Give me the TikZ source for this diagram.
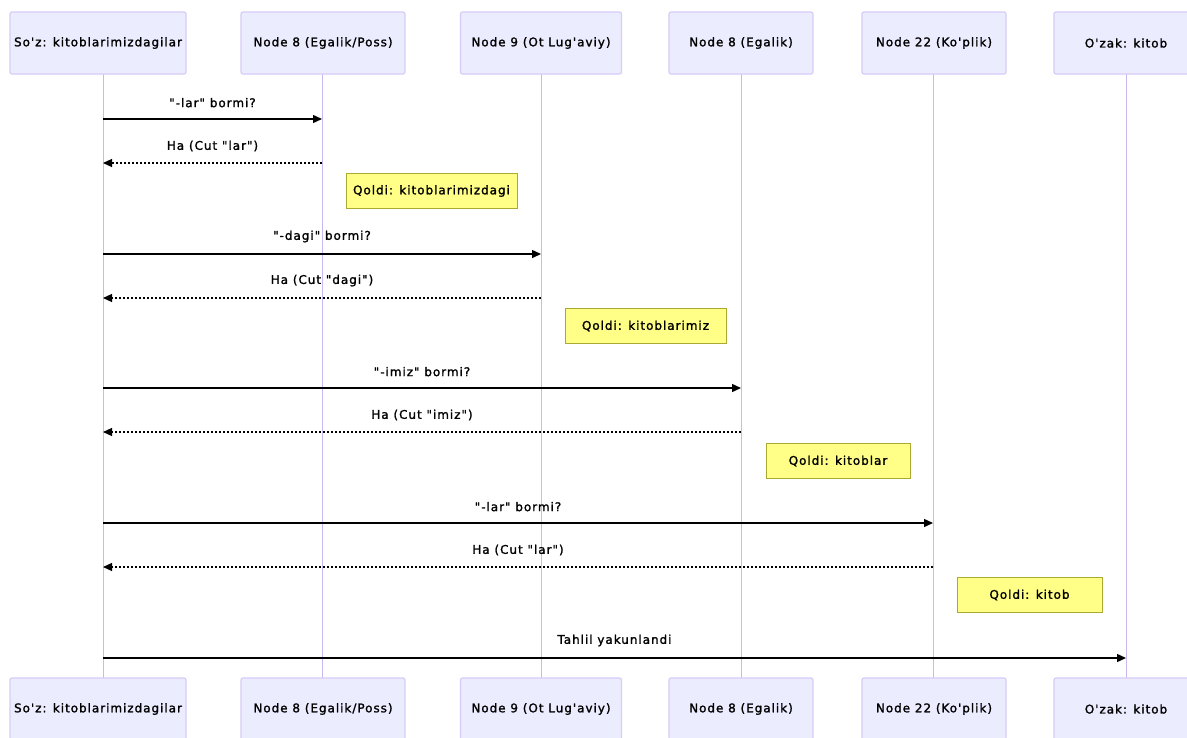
\documentclass[tikz,border=0pt]{standalone}
\usepackage{fontspec}
\setmainfont{DejaVu Sans}[Ligatures=TeXOff,LetterSpace=8,FakeBold=1.5,UprightFont=*,BoldFont=*]
\usetikzlibrary{arrows.meta}
\newcommand{\qq}{\symbol{34}}
\newcommand{\ap}{\symbol{39}}
\definecolor{actfill}{HTML}{ECECFF}
\definecolor{actdraw}{HTML}{D7CCF7}
\definecolor{lifeln}{HTML}{C9B8F2}
\definecolor{notefill}{HTML}{FFFF88}
\definecolor{notedraw}{HTML}{AAAA33}
\begin{document}
\begin{tikzpicture}[x=1pt,y=-1pt,
  txt/.style={font=\fontsize{12}{14}\selectfont\bfseries},
  actor/.style={txt,draw=actdraw,fill=actfill,line width=1.2pt,rounded corners=2pt,minimum height=62pt,inner sep=0pt},
  notebox/.style={txt,draw=notedraw,fill=notefill,line width=0.8pt,minimum height=35pt,inner sep=0pt},
  life/.style={draw=lifeln,line width=1pt},
  msg/.style={draw=black,line width=1.4pt,-{Triangle[length=9pt,width=8pt]}},
  reply/.style={draw=black,line width=1.2pt,dash pattern=on 2pt off 2pt,-{Triangle[length=9pt,width=8pt]}},
  lbl/.style={txt,inner sep=0pt}]
\useasboundingbox (0,0) rectangle (1187,737);
\fill[white] (0,0) rectangle (1187,737);
% lifelines
\foreach \n/\x in {a/103,b/322,c/541,d/741,e/933,f/1126}{
  \coordinate (\n t) at (\x,74);
  \coordinate (\n b) at (\x,678);
  \draw[life] (\n t) -- (\n b);
}
% top actors
\node[actor,minimum width=176pt] (A1) at (98,43) {So\ap z: kitoblarimizdagilar};
\node[actor,minimum width=164pt] (B1) at (323,43) {Node 8 (Egalik/Poss)};
\node[actor,minimum width=161pt] (C1) at (541,43) {Node 9 (Ot Lug\ap aviy)};
\node[actor,minimum width=144pt] (D1) at (741,43) {Node 8 (Egalik)};
\node[actor,minimum width=144pt] (E1) at (934,43) {Node 22 (Ko\ap plik)};
\node[actor,minimum width=144pt] (F1) at (1126,43) {O\ap zak: kitob};
% bottom actors
\node[actor,minimum width=176pt] (A2) at (98,709) {So\ap z: kitoblarimizdagilar};
\node[actor,minimum width=164pt] (B2) at (323,709) {Node 8 (Egalik/Poss)};
\node[actor,minimum width=161pt] (C2) at (541,709) {Node 9 (Ot Lug\ap aviy)};
\node[actor,minimum width=144pt] (D2) at (741,709) {Node 8 (Egalik)};
\node[actor,minimum width=144pt] (E2) at (934,709) {Node 22 (Ko\ap plik)};
\node[actor,minimum width=144pt] (F2) at (1126,709) {O\ap zak: kitob};
% message endpoints
\foreach \n/\x in {a/103,b/322,c/541,d/741,e/933,f/1126}{
  \foreach \k/\y in {1/119,2/163,3/254,4/298,5/388,6/432,7/523,8/567,9/658}{
    \coordinate (\n\k) at (\x,\y);
  }
}
\draw[msg] (a1) -- (b1) node[lbl,midway,above=11pt] {\qq-lar\qq{} bormi?};
\draw[reply] (b2) -- (a2) node[lbl,midway,above=11pt] {Ha (Cut \qq lar\qq)};
\node[notebox,minimum width=171pt] (n1) at (431.5,191) {Qoldi: kitoblarimizdagi};
\draw[msg] (a3) -- (c3) node[lbl,midway,above=11pt] {\qq-dagi\qq{} bormi?};
\draw[reply] (c4) -- (a4) node[lbl,midway,above=11pt] {Ha (Cut \qq dagi\qq)};
\node[notebox,minimum width=161pt] (n2) at (645.5,326) {Qoldi: kitoblarimiz};
\draw[msg] (a5) -- (d5) node[lbl,midway,above=11pt] {\qq-imiz\qq{} bormi?};
\draw[reply] (d6) -- (a6) node[lbl,midway,above=11pt] {Ha (Cut \qq imiz\qq)};
\node[notebox,minimum width=144pt] (n3) at (838,461) {Qoldi: kitoblar};
\draw[msg] (a7) -- (e7) node[lbl,midway,above=11pt] {\qq-lar\qq{} bormi?};
\draw[reply] (e8) -- (a8) node[lbl,midway,above=11pt] {Ha (Cut \qq lar\qq)};
\node[notebox,minimum width=145pt] (n4) at (1029.5,595) {Qoldi: kitob};
\draw[msg] (a9) -- (f9) node[lbl,midway,above=11pt] {Tahlil yakunlandi};
\end{tikzpicture}
\end{document}
